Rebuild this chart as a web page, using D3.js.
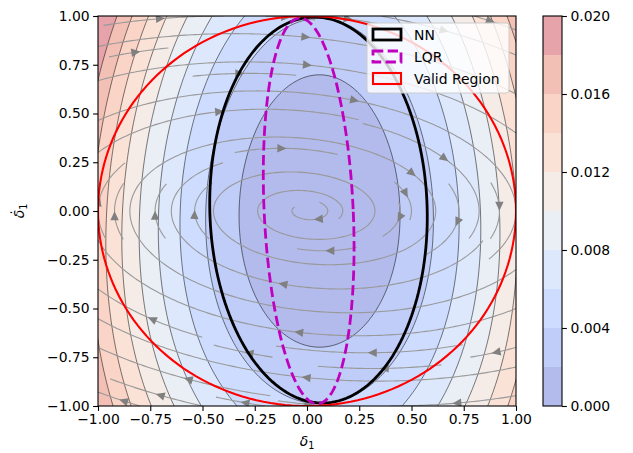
<!DOCTYPE html>
<html>
<head>
<meta charset="utf-8">
<script src="https://cdn.jsdelivr.net/npm/d3@7"></script>
<style>
  body { margin: 0; background: #fff; }
  text { font-family: "DejaVu Sans", sans-serif; }
</style>
</head>
<body>
<div id="chart"></div>
<script>
// contour levels of the Lyapunov function (also the colorbar bounds)
const levels = [0, 0.002, 0.004, 0.006, 0.008, 0.010, 0.012, 0.014, 0.016, 0.018, 0.020];
const cbTicks = [0, 0.004, 0.008, 0.012, 0.016, 0.020];
const xTicks = [-1, -0.75, -0.5, -0.25, 0, 0.25, 0.5, 0.75, 1];
const yTicks = [-1, -0.75, -0.5, -0.25, 0, 0.25, 0.5, 0.75, 1];

// V(d) ~ p11 dx^2 + p22 dy^2 + q dx^2 dy
const vCenter = [0.06, 0.0];
const vCoef = [0.0135, 0.0041, 0.0013];

// closed loop dynamics used by the streamlines
const flowMatrix = [[0, 1], [-0.27, -0.105]];

// ellipses: cx, cy, rx, ry, rotation (deg)
const nnEllipse = [0.055, 0.005, 0.52, 0.99, 1.5];
const lqrEllipse = [0.008, 0.0, 0.213, 0.99, 2.5];
const validRegion = [0, 0, 1, 1, 0];

const legendNames = ["NN", "LQR", "Valid Region"];

// coolwarm anchors
const coolwarm = ["#3b4cc0", "#6282ea", "#8db0fe", "#b8d0f9", "#dddddd",
                  "#f6c4ad", "#f49a7b", "#de604d", "#b40426"];

const W = 633, H = 453;
const plot = { left: 98, right: 516, top: 16, bottom: 406 };
const alpha = 0.43;

const svg = d3.select("#chart").append("svg")
    .attr("width", W)
    .attr("height", H);

const xScale = d3.scaleLinear().domain([-1, 1]).range([plot.left, plot.right]);
const yScale = d3.scaleLinear().domain([-1, 1]).range([plot.bottom, plot.top]);

const cmap = d3.scaleLinear()
    .domain(coolwarm.map((c, i) => i / (coolwarm.length - 1)))
    .range(coolwarm)
    .interpolate(d3.interpolateRgb);

// blend with white so stacked layers stay opaque
function bandColor(i) {
  const c = d3.rgb(cmap((i + 0.5) / (levels.length - 1)));
  return d3.rgb(255 - alpha * (255 - c.r), 255 - alpha * (255 - c.g), 255 - alpha * (255 - c.b)).formatHex();
}

svg.append("clipPath").attr("id", "clip")
  .append("rect")
    .attr("x", plot.left).attr("y", plot.top)
    .attr("width", plot.right - plot.left).attr("height", plot.bottom - plot.top);

const g = svg.append("g").attr("clip-path", "url(#clip)");

// grid of V for the contours
const n = 211, lo = -1.05, hi = 1.05, step = (hi - lo) / (n - 1);
const grid = new Float64Array(n * n);
for (let j = 0; j < n; j++) {
  for (let i = 0; i < n; i++) {
    const dx = lo + i * step - vCenter[0];
    const dy = hi - j * step - vCenter[1];
    grid[j * n + i] = vCoef[0] * dx * dx + vCoef[1] * dy * dy + vCoef[2] * dx * dx * dy;
  }
}

const gridPath = d3.geoPath(d3.geoTransform({
  point: function(px, py) {
    this.stream.point(xScale(lo + (px - 0.5) * step), yScale(hi - (py - 0.5) * step));
  }
}));

const contours = d3.contours().size([n, n]).thresholds(levels.slice(0, -1))(grid);

// filled bands
g.selectAll(".band")
  .data(contours)
  .enter().append("path")
    .attr("d", gridPath)
    .attr("fill", (d, i) => bandColor(i))
    .attr("stroke", "none");

// contour lines
g.selectAll(".cline")
  .data(contours.slice(1))
  .enter().append("path")
    .attr("d", gridPath)
    .attr("fill", "none")
    .attr("stroke", "#000")
    .attr("stroke-opacity", 0.75)
    .attr("stroke-width", 0.7);

// streamlines, same seeding idea as matplotlib streamplot
const NM = 21;
const mask = d3.range(NM).map(() => new Int8Array(NM));

function vel(ax, ay) {
  const x = -1 + 2 * ax, y = -1 + 2 * ay;
  const u = (flowMatrix[0][0] * x + flowMatrix[0][1] * y) / 2;
  const v = (flowMatrix[1][0] * x + flowMatrix[1][1] * y) / 2;
  const s = Math.hypot(u, v);
  return s === 0 ? null : [u / s, v / s];
}

function integrate(ax, ay, sign, state, traj) {
  const pts = [[ax, ay]];
  let x = ax, y = ay, len = 0;
  const ds = 0.008;
  while (len < 4) {
    const k1 = vel(x, y);
    if (!k1) break;
    const xm = x + sign * ds * k1[0], ym = y + sign * ds * k1[1];
    const k2 = vel(Math.min(1, Math.max(0, xm)), Math.min(1, Math.max(0, ym)));
    if (!k2) break;
    const nx = x + sign * ds * (k1[0] + k2[0]) / 2;
    const ny = y + sign * ds * (k1[1] + k2[1]) / 2;
    if (nx < 0 || nx > 1 || ny < 0 || ny > 1) {
      // euler step onto the edge
      const ex = sign * k1[0], ey = sign * k1[1];
      let t = ds;
      if (ex > 0) t = Math.min(t, (1 - x) / ex);
      if (ex < 0) t = Math.min(t, -x / ex);
      if (ey > 0) t = Math.min(t, (1 - y) / ey);
      if (ey < 0) t = Math.min(t, -y / ey);
      pts.push([x + t * ex, y + t * ey]);
      len += t;
      break;
    }
    const mx = Math.round(nx * (NM - 1)), my = Math.round(ny * (NM - 1));
    if (mx !== state[0] || my !== state[1]) {
      if (mask[my][mx]) break;
      mask[my][mx] = 1;
      traj.push([mx, my]);
      state[0] = mx; state[1] = my;
    }
    x = nx; y = ny; len += ds;
    pts.push([x, y]);
  }
  return { pts: pts, len: len };
}

function* spiral() {
  let xfirst = 0, yfirst = 1, xlast = NM - 1, ylast = NM - 1, x = 0, y = 0, dir = "right";
  for (let i = 0; i < NM * NM; i++) {
    yield [x, y];
    if (dir === "right") { x += 1; if (x >= xlast) { xlast -= 1; dir = "up"; } }
    else if (dir === "up") { y += 1; if (y >= ylast) { ylast -= 1; dir = "left"; } }
    else if (dir === "left") { x -= 1; if (x <= xfirst) { xfirst += 1; dir = "down"; } }
    else { y -= 1; if (y <= yfirst) { yfirst += 1; dir = "right"; } }
  }
}

const streams = [];
for (const [mx, my] of spiral()) {
  if (mask[my][mx]) continue;
  const traj = [[mx, my]];
  mask[my][mx] = 1;
  const ax = mx / (NM - 1), ay = my / (NM - 1);
  const back = integrate(ax, ay, -1, [mx, my], traj);
  const fwd = integrate(ax, ay, 1, [mx, my], traj);
  if (back.len + fwd.len > 0.1) {
    const pts = back.pts.slice().reverse().concat(fwd.pts.slice(1))
      .map(p => [-1 + 2 * p[0], -1 + 2 * p[1]]);
    streams.push(pts);
  } else {
    traj.forEach(c => { mask[c[1]][c[0]] = 0; });
  }
}

const line = d3.line().x(d => xScale(d[0])).y(d => yScale(d[1]));

g.selectAll(".stream")
  .data(streams)
  .enter().append("path")
    .attr("d", line)
    .attr("fill", "none")
    .attr("stroke", "#999999")
    .attr("stroke-width", 1.1);

// arrow heads at the middle of each streamline
const arrows = streams.map(pts => {
  const s = [];
  let acc = 0;
  for (let i = 1; i < pts.length; i++) {
    acc += Math.hypot(pts[i][0] - pts[i - 1][0], pts[i][1] - pts[i - 1][1]);
    s.push(acc);
  }
  const k = d3.bisectLeft(s, acc / 2);
  const tail = pts[k], nxt = pts[Math.min(k + 1, pts.length - 1)];
  return { tail: tail, head: [(tail[0] + nxt[0]) / 2, (tail[1] + nxt[1]) / 2] };
});

g.selectAll(".arrow")
  .data(arrows)
  .enter().append("path")
    .attr("d", d => {
      const hx = xScale(d.head[0]), hy = yScale(d.head[1]);
      const tx = xScale(d.tail[0]), ty = yScale(d.tail[1]);
      const a = Math.atan2(hy - ty, hx - tx);
      const L = 9, w = 4.2;
      const bx = hx - L * Math.cos(a), by = hy - L * Math.sin(a);
      return "M" + hx + "," + hy +
        "L" + (bx - w * Math.sin(a)) + "," + (by + w * Math.cos(a)) +
        "L" + (bx + w * Math.sin(a)) + "," + (by - w * Math.cos(a)) + "Z";
    })
    .attr("fill", "#808080");

// ellipses
function ellipsePoints(e) {
  const rot = e[4] * Math.PI / 180;
  return d3.range(0, 361, 2).map(t => {
    const a = t * Math.PI / 180;
    const ex = e[2] * Math.cos(a), ey = e[3] * Math.sin(a);
    return [e[0] + ex * Math.cos(rot) - ey * Math.sin(rot), e[1] + ex * Math.sin(rot) + ey * Math.cos(rot)];
  });
}

const ellipseStyles = [
  { e: nnEllipse, color: "#000000", width: 2.8, dash: null },
  { e: lqrEllipse, color: "#bf00bf", width: 2.8, dash: "10.3,4.4" },
  { e: validRegion, color: "#ff0000", width: 2.1, dash: null }
];

g.selectAll(".ellipse")
  .data(ellipseStyles)
  .enter().append("path")
    .attr("d", d => line(ellipsePoints(d.e)))
    .attr("fill", "none")
    .attr("stroke", d => d.color)
    .attr("stroke-width", d => d.width)
    .attr("stroke-dasharray", d => d.dash);

// axes
const fmt = d3.format(".2f");
const xAxis = svg.append("g")
    .attr("transform", "translate(0," + plot.bottom + ")")
    .call(d3.axisBottom(xScale).tickValues(xTicks).tickFormat(fmt).tickSize(4.9).tickPadding(3.5));
const yAxis = svg.append("g")
    .attr("transform", "translate(" + plot.left + ",0)")
    .call(d3.axisLeft(yScale).tickValues(yTicks).tickFormat(fmt).tickSize(4.9).tickPadding(3.5));
[xAxis, yAxis].forEach(a => {
  a.select(".domain").remove();
  a.selectAll("line").attr("stroke", "#000").attr("stroke-width", 1.1);
  a.selectAll("text").attr("font-size", "13.9px").attr("fill", "#000")
    .style("font-family", "DejaVu Sans, sans-serif");
});

svg.append("rect")
    .attr("x", plot.left).attr("y", plot.top)
    .attr("width", plot.right - plot.left).attr("height", plot.bottom - plot.top)
    .attr("fill", "none").attr("stroke", "#000").attr("stroke-width", 1.1);

// axis labels
const xl = svg.append("text")
    .attr("x", (plot.left + plot.right) / 2).attr("y", 446)
    .attr("text-anchor", "middle").attr("font-size", "13.9px");
xl.append("tspan").attr("font-style", "italic").text("δ");
xl.append("tspan").attr("font-size", "9.7px").attr("dy", 3).text("1");

const yl = svg.append("text")
    .attr("transform", "translate(24," + ((plot.top + plot.bottom) / 2) + ") rotate(-90)")
    .attr("text-anchor", "middle").attr("font-size", "13.9px");
yl.append("tspan").attr("font-style", "italic").text("δ̇");
yl.append("tspan").attr("font-size", "9.7px").attr("dy", 3).text("1");

// legend
const leg = svg.append("g").attr("transform", "translate(367,23)");
leg.append("rect")
    .attr("width", 142).attr("height", 70).attr("rx", 3)
    .attr("fill", "#fff").attr("fill-opacity", 0.8)
    .attr("stroke", "#cccccc").attr("stroke-width", 1);
legendNames.forEach((name, i) => {
  const st = ellipseStyles[i];
  const row = leg.append("g").attr("transform", "translate(0," + (12 + i * 22) + ")");
  row.append("rect")
      .attr("x", 6).attr("y", -6).attr("width", 28).attr("height", 11)
      .attr("fill", "none").attr("stroke", st.color)
      .attr("stroke-width", st.width)
      .attr("stroke-dasharray", st.dash);
  row.append("text")
      .attr("x", 47).attr("y", 0).attr("dy", "0.35em")
      .attr("font-size", "13.9px").text(name);
});

// colorbar
const cb = { left: 543, right: 562 };
const cScale = d3.scaleLinear().domain([0, 0.020]).range([plot.bottom, plot.top]);
svg.append("g").selectAll("rect")
  .data(levels.slice(0, -1))
  .enter().append("rect")
    .attr("x", cb.left)
    .attr("y", (d, i) => cScale(levels[i + 1]))
    .attr("width", cb.right - cb.left)
    .attr("height", (d, i) => cScale(levels[i]) - cScale(levels[i + 1]))
    .attr("fill", (d, i) => bandColor(i));
svg.append("rect")
    .attr("x", cb.left).attr("y", plot.top)
    .attr("width", cb.right - cb.left).attr("height", plot.bottom - plot.top)
    .attr("fill", "none").attr("stroke", "#000").attr("stroke-width", 1.1);
const cAxis = svg.append("g")
    .attr("transform", "translate(" + cb.right + ",0)")
    .call(d3.axisRight(cScale).tickValues(cbTicks).tickFormat(d3.format(".3f")).tickSize(4.9).tickPadding(3.5));
cAxis.select(".domain").remove();
cAxis.selectAll("line").attr("stroke", "#000").attr("stroke-width", 1.1);
cAxis.selectAll("text").attr("font-size", "13.9px").attr("fill", "#000")
  .style("font-family", "DejaVu Sans, sans-serif");
</script>
</body>
</html>
